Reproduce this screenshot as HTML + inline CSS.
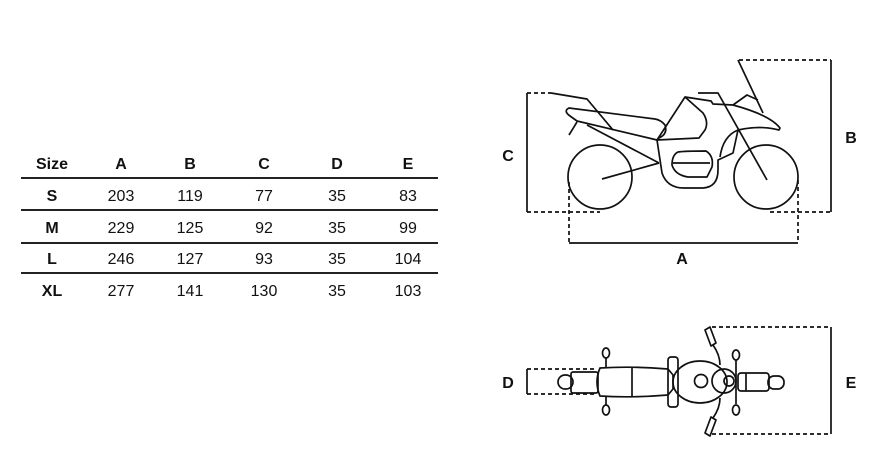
<!DOCTYPE html>
<html><head><style>
body{margin:0;width:873px;height:458px;background:#fff;overflow:hidden;position:relative;font-family:"Liberation Sans",sans-serif;color:#111}
.t{position:absolute;font-size:16px;text-align:center;width:60px;margin-left:-30px;line-height:20px}
.b{font-weight:bold}
.r{position:absolute;left:21px;width:417px;height:2px;background:#222}
</style></head><body>
<div class="t b" style="left:52px;top:155px">Size</div>
<div class="t b" style="left:121px;top:155px">A</div>
<div class="t b" style="left:190px;top:155px">B</div>
<div class="t b" style="left:264px;top:155px">C</div>
<div class="t b" style="left:337px;top:155px">D</div>
<div class="t b" style="left:408px;top:155px">E</div>
<div class="r" style="top:177px"></div>
<div class="t b" style="left:52px;top:187px">S</div><div class="t" style="left:121px;top:187px">203</div><div class="t" style="left:190px;top:187px">119</div><div class="t" style="left:264px;top:187px">77</div><div class="t" style="left:337px;top:187px">35</div><div class="t" style="left:408px;top:187px">83</div>
<div class="r" style="top:209px"></div>
<div class="t b" style="left:52px;top:219px">M</div><div class="t" style="left:121px;top:219px">229</div><div class="t" style="left:190px;top:219px">125</div><div class="t" style="left:264px;top:219px">92</div><div class="t" style="left:337px;top:219px">35</div><div class="t" style="left:408px;top:219px">99</div>
<div class="r" style="top:242px"></div>
<div class="t b" style="left:52px;top:250px">L</div><div class="t" style="left:121px;top:250px">246</div><div class="t" style="left:190px;top:250px">127</div><div class="t" style="left:264px;top:250px">93</div><div class="t" style="left:337px;top:250px">35</div><div class="t" style="left:408px;top:250px">104</div>
<div class="r" style="top:272px"></div>
<div class="t b" style="left:52px;top:282px">XL</div><div class="t" style="left:121px;top:282px">277</div><div class="t" style="left:190px;top:282px">141</div><div class="t" style="left:264px;top:282px">130</div><div class="t" style="left:337px;top:282px">35</div><div class="t" style="left:408px;top:282px">103</div>

<svg width="873" height="458" style="position:absolute;left:0;top:0" fill="none" stroke="#111" stroke-width="1.7" stroke-linejoin="round">
<g font-family="Liberation Sans" font-weight="bold" font-size="16" fill="#111" stroke="none" text-anchor="middle">
<text x="508" y="161">C</text><text x="851" y="143">B</text><text x="682" y="264">A</text>
<text x="508" y="388">D</text><text x="851" y="388">E</text></g>
<path d="M527 93V212"/>
<path d="M527 93H551M527 212H600M569 182V243M798 180V243M739 60H831M770 212H831" stroke-dasharray="4 3"/>
<path d="M569 243H798M831 60V212"/>
<circle cx="600" cy="177" r="32"/><circle cx="766" cy="177" r="32"/>
<path d="M551 93L587 99L613 130"/>
<path d="M569 108Q563 111 570 116L577 121L657 140L659 138Q668 134 665 125Q661 120 655 119Z"/>
<path d="M577 122L569 135M587 125L659 163M602 179L659 163"/>
<path d="M657 140L685 97L703 113Q709 122 705 130L699 138L657 140"/>
<path d="M657 140L662 173Q667 188 684 188H703Q718 187 718 170L718 160L733 153L738 130Q723 136 720 157"/>
<path d="M698 93H718L767 180"/>
<path d="M685 97L711 101L713 104L733 105L747 95L758 100M733 105Q770 115 780 128L779 130Q760 125 738 130"/>
<path d="M738 60L763 113"/>
<path d="M678 152Q685 151 706 151Q714 156 712 167L707 177H688Q675 175 672 165Q672 155 678 152ZM673 163H710"/>
<path d="M527 369V394"/>
<path d="M527 369H597M527 394H597M712 327H831M712 434H831" stroke-dasharray="4 3"/>
<path d="M831 327V434"/>
<rect x="558" y="375" width="15" height="14" rx="7"/>
<rect x="571" y="372" width="27" height="21" rx="2"/>
<path d="M600 368Q632 366 668 369L673 375V389L668 395Q632 398 600 396Q594 382 600 368ZM632 367V397"/>
<rect x="668" y="357" width="10" height="50" rx="3"/>
<ellipse cx="700" cy="382" rx="27" ry="21"/>
<circle cx="701" cy="381" r="6.5"/>
<circle cx="724" cy="381" r="12"/><circle cx="729" cy="381" r="5"/>
<rect x="738" y="373" width="31" height="18" rx="3"/><path d="M746 373V391"/>
<rect x="768" y="376" width="16" height="13" rx="6"/>
<ellipse cx="606" cy="353" rx="3.5" ry="5"/><ellipse cx="606" cy="410" rx="3.5" ry="5"/>
<ellipse cx="736" cy="355" rx="3.5" ry="5"/><ellipse cx="736" cy="410" rx="3.5" ry="5"/>
<path d="M606 358V368M606 396V405M736 360V404"/>
<path d="M705 330L710 327L716 343L711 346ZM713 345Q720 355 720 365M705 433L710 436L716 420L711 417ZM713 418Q720 408 720 398"/>
</svg>
</body></html>
